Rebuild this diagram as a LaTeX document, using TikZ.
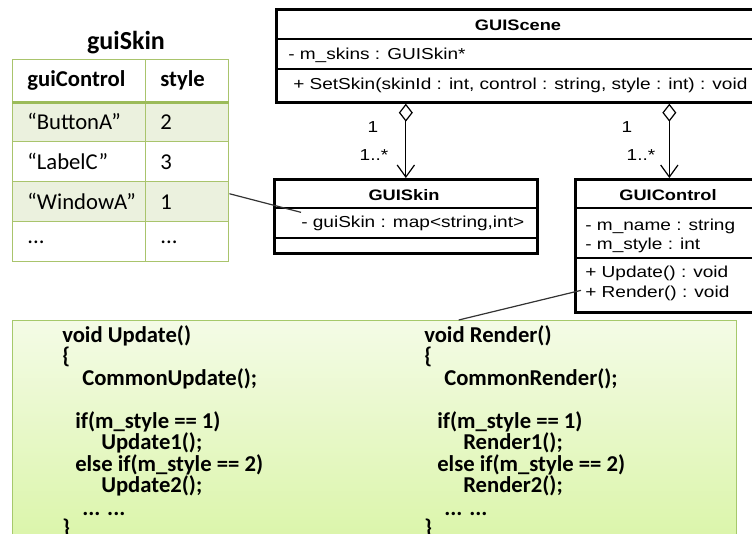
\documentclass[tikz,border=0pt]{standalone}
\usepackage{fontspec}
\setmainfont{Carlito}
\newfontfamily\umlfont{Liberation Sans}[FakeStretch=1.2]
\usetikzlibrary{arrows.meta}
\definecolor{tgreen}{HTML}{A9C46C}
\definecolor{tgreendark}{HTML}{9BBB59}
\definecolor{tfill}{HTML}{EBF1DE}
\definecolor{codetop}{HTML}{F4FBE6}
\definecolor{codebot}{HTML}{DAF5A8}
\definecolor{codeborder}{HTML}{A6C96B}
\tikzset{
  umlbox/.style={draw=black, line width=2pt, anchor=north west, inner sep=0pt},
  divider/.style={draw=black, line width=0.9pt},
  umltxt/.style={anchor=west, inner sep=0pt, font=\umlfont\fontsize{11.9}{14}\selectfont, text height=9pt, text depth=2.6pt},
  umltitle/.style={anchor=center, inner sep=0pt, font=\umlfont\bfseries\fontsize{11.4}{13}\selectfont},
  mult/.style={anchor=center, inner sep=0pt, font=\umlfont\fontsize{11.9}{14}\selectfont},
  aggr/.style={draw=black, line width=0.9pt, {Diamond[open, length=13.5pt, width=10.5pt]}-{Straight Barb[length=9pt, width=13pt]}},
  conn/.style={draw=black!80, line width=0.9pt},
  cell/.style={draw=tgreen, line width=1.1pt, anchor=north west, inner xsep=11pt, inner ysep=0pt, align=left, font=\fontsize{17}{20}\selectfont},
  codetxt/.style={anchor=west, inner sep=0pt, font=\bfseries\fontsize{17}{20}\selectfont, text height=11.8pt, text depth=3.6pt},
}
\begin{document}
\begin{tikzpicture}[x=0.75pt, y=-0.75pt]
\useasboundingbox (0,0) rectangle (752,533);
\clip (0,0) rectangle (752,533);

% ---------- table ----------
\node[anchor=center, inner sep=0pt, font=\bfseries\fontsize{19.5}{22}\selectfont] (ttitle) at (126,43) {guiSkin};
\node[cell, fill=white, minimum width=99.75pt, minimum height=31.5pt, text width=77.75pt, font=\bfseries\fontsize{17}{20}\selectfont] (h1) at (12,59) {guiControl};
\node[cell, fill=white, minimum width=62.25pt, minimum height=31.5pt, text width=40.25pt, font=\bfseries\fontsize{17}{20}\selectfont] (h2) at (145,59) {style};
\node[cell, fill=tfill, minimum width=99.75pt, minimum height=30pt, text width=77.75pt] (c11) at (12,101) {“ButtonA”};
\node[cell, fill=tfill, minimum width=62.25pt, minimum height=30pt, text width=40.25pt] (c12) at (145,101) {2};
\node[cell, fill=white, minimum width=99.75pt, minimum height=30pt, text width=77.75pt] (c21) at (12,141) {“LabelC”};
\node[cell, fill=white, minimum width=62.25pt, minimum height=30pt, text width=40.25pt] (c22) at (145,141) {3};
\node[cell, fill=tfill, minimum width=99.75pt, minimum height=30pt, text width=77.75pt] (c31) at (12,181) {“WindowA”};
\node[cell, fill=tfill, minimum width=62.25pt, minimum height=30pt, text width=40.25pt] (c32) at (145,181) {1};
\node[cell, fill=white, minimum width=99.75pt, minimum height=30pt, text width=77.75pt] (c41) at (12,221) {\raisebox{-3pt}{...}};
\node[cell, fill=white, minimum width=62.25pt, minimum height=30pt, text width=40.25pt] (c42) at (145,221) {\raisebox{-3pt}{...}};
\draw[tgreendark, line width=2.4pt] (h1.south west) -- (h2.south east);

% ---------- code box ----------
\node[anchor=north west, draw=codeborder, line width=1pt, top color=codetop, bottom color=codebot, minimum width=543pt, minimum height=170pt, inner sep=0pt] (code) at (12,320) {};

\node[codetxt] (u1) at (62,337) {void Update()};
\node[codetxt] (u2) at (62,358) {\{};
\node[codetxt] (u3) at (82,380) {CommonUpdate();};
\node[codetxt] (u4) at (75,423) {if(m\_style == 1)};
\node[codetxt] (u5) at (101,444) {Update1();};
\node[codetxt] (u6) at (75,466) {else if(m\_style == 2)};
\node[codetxt] (u7) at (101,487) {Update2();};
\node[codetxt] (u8) at (82,510) {... ...};
\node[codetxt] (u9) at (62,530) {\}};

\node[codetxt] (r1) at (424,337) {void Render()};
\node[codetxt] (r2) at (424,358) {\{};
\node[codetxt] (r3) at (444,380) {CommonRender();};
\node[codetxt] (r4) at (437,423) {if(m\_style == 1)};
\node[codetxt] (r5) at (463,444) {Render1();};
\node[codetxt] (r6) at (437,466) {else if(m\_style == 2)};
\node[codetxt] (r7) at (463,487) {Render2();};
\node[codetxt] (r8) at (444,510) {... ...};
\node[codetxt] (r9) at (424,530) {\}};

% ---------- GUIScene ----------
\node[umlbox, fill=white, minimum width=364.5pt, minimum height=69.75pt] (scene) at (275,8) {};
\node[umltitle] (scenet) at (518,25) {GUIScene};
\draw[divider] (275,39) -- (761,39);
\draw[divider] (275,69) -- (761,69);
\node[umltxt] (scenea) at (288,55) {- m\_skins : GUISkin*};
\node[umltxt] (scenem) at (293,85) {+ SetSkin(skinId : int, control : string, style : int) : void};

% ---------- GUISkin ----------
\node[umlbox, fill=white, minimum width=197.25pt, minimum height=55.5pt] (skin) at (273,178) {};
\node[umltitle] (skint) at (404,195) {GUISkin};
\draw[divider] (273,208) -- (536,208);
\draw[divider] (273,238) -- (536,238);
\node[umltxt] (skina) at (301,223) {- guiSkin : map<string,int>};

% ---------- GUIControl ----------
\node[umlbox, fill=white, minimum width=141pt, minimum height=99.75pt] (ctrl) at (574,178) {};
\node[umltitle] (ctrlt) at (668,195) {GUIControl};
\draw[divider] (574,208) -- (762,208);
\draw[divider] (574,258) -- (762,258);
\node[umltxt] (ctrla1) at (585,226) {- m\_name : string};
\node[umltxt] (ctrla2) at (585,245) {- m\_style : int};
\node[umltxt] (ctrlm1) at (585,273) {+ Update() : void};
\node[umltxt] (ctrlm2) at (585,293) {+ Render() : void};

% ---------- associations ----------
\draw[aggr] (scene.south -| skin.north) -- (skin.north);
\draw[aggr] (scene.south -| ctrl.north) -- (ctrl.north);
\node[mult] (m1a) at (373,127) {1};
\node[mult] (m1b) at (374,155) {1..*};
\node[mult] (m2a) at (627,127) {1};
\node[mult] (m2b) at (641,155) {1..*};

% ---------- note connectors ----------
\draw[conn] ([yshift=6pt]c32.east) -- ([yshift=8pt]skina.west);
\draw[conn] ([xshift=-3pt,yshift=2pt]ctrlm2.west) -- ([xshift=63pt]code.north);
\end{tikzpicture}
\end{document}
